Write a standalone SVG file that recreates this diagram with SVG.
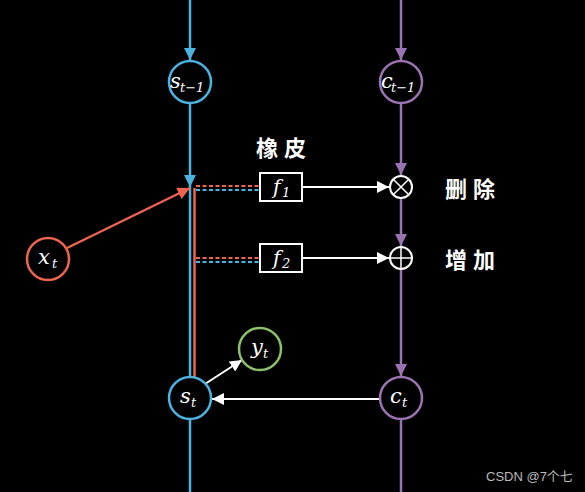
<svg xmlns="http://www.w3.org/2000/svg" width="585" height="492" viewBox="0 0 585 492">
<style>
.math{font-family:"DejaVu Serif","Liberation Serif",serif;font-style:italic;fill:#fff}
.sub{font-family:"DejaVu Serif","Liberation Serif",serif;font-style:italic;fill:#fff;font-size:13px}
.cjk{font-family:"Noto Sans CJK SC",sans-serif;font-weight:bold;fill:#fff;font-size:22px;letter-spacing:6px}
.blue{stroke:#4cb3e0;stroke-width:2.5;fill:none}
.purple{stroke:#9a74b2;stroke-width:2.5;fill:none}
.red{stroke:#ee6450;stroke-width:2.5;fill:none}
.green{stroke:#8cc06c;stroke-width:2.5;fill:none}
.white{stroke:#fff;stroke-width:2;fill:none}
</style>
<defs>
<marker id="ab" viewBox="0 0 10 10" refX="10" refY="5" markerWidth="5" markerHeight="5" orient="auto"><path d="M0,0L10,5L0,10z" fill="#4cb3e0"/></marker>
<marker id="ap" viewBox="0 0 10 10" refX="10" refY="5" markerWidth="5" markerHeight="5" orient="auto"><path d="M0,0L10,5L0,10z" fill="#9a74b2"/></marker>
<marker id="ar" viewBox="0 0 10 10" refX="10" refY="5" markerWidth="5" markerHeight="5" orient="auto"><path d="M0,0L10,5L0,10z" fill="#ee6450"/></marker>
<marker id="aw" viewBox="0 0 10 10" refX="10" refY="5" markerWidth="6" markerHeight="6" orient="auto"><path d="M0,0L10,5L0,10z" fill="#fff"/></marker>
</defs>
<rect width="585" height="492" fill="#000"/>
<g id="connectors">
<line class="blue" x1="190" y1="0" x2="190" y2="60" marker-end="url(#ab)"/>
<line class="blue" x1="190" y1="103" x2="190" y2="187" marker-end="url(#ab)"/>
<line class="blue" x1="190" y1="187" x2="190" y2="377"/>
<line class="blue" x1="190" y1="419" x2="190" y2="492"/>
<line class="purple" x1="401" y1="0" x2="401" y2="60" marker-end="url(#ap)"/>
<line class="purple" x1="401" y1="103" x2="401" y2="175" marker-end="url(#ap)"/>
<line class="purple" x1="401" y1="198" x2="401" y2="246" marker-end="url(#ap)"/>
<line class="purple" x1="401" y1="269" x2="401" y2="376" marker-end="url(#ap)"/>
<line class="purple" x1="401" y1="419" x2="401" y2="492"/>
<line class="red" x1="67" y1="248" x2="190" y2="188" marker-end="url(#ar)"/>
<line class="red" x1="194.5" y1="188" x2="194.5" y2="378"/>
<line stroke="#ee6450" stroke-width="2" stroke-dasharray="4,2.5" x1="196" y1="186" x2="260" y2="186"/>
<line stroke="#4cb3e0" stroke-width="2" stroke-dasharray="4,2.5" x1="196" y1="190" x2="260" y2="190"/>
<line stroke="#ee6450" stroke-width="2" stroke-dasharray="4,2.5" x1="196" y1="258" x2="260" y2="258"/>
<line stroke="#4cb3e0" stroke-width="2" stroke-dasharray="4,2.5" x1="196" y1="262" x2="260" y2="262"/>
<line class="white" x1="302" y1="187" x2="389" y2="187" marker-end="url(#aw)"/>
<line class="white" x1="302" y1="258" x2="389" y2="258" marker-end="url(#aw)"/>
<line class="white" x1="380" y1="399" x2="212" y2="399" marker-end="url(#aw)"/>
<line class="white" x1="205" y1="384" x2="242" y2="360" marker-end="url(#aw)"/>
</g>
<g id="s_prev"><circle class="blue" cx="190" cy="82" r="21"/><text class="math" x="170" y="88" font-size="21">s</text><text class="sub" x="180" y="92">t−1</text></g>
<g id="c_prev"><circle class="purple" cx="401" cy="82" r="21"/><text class="math" x="381" y="88" font-size="21">c</text><text class="sub" x="391" y="92">t−1</text></g>
<g id="x_t"><circle class="red" cx="48" cy="259" r="21"/><text class="math" x="38" y="264" font-size="21">x</text><text class="sub" x="52" y="268">t</text></g>
<g id="f1"><rect x="260" y="173" width="42" height="28" stroke="#fff" stroke-width="2" fill="none"/><text class="math" x="273" y="194" font-size="20">f</text><text class="sub" x="282" y="197" font-style="normal">1</text></g>
<g id="f2"><rect x="260" y="244" width="42" height="28" stroke="#fff" stroke-width="2" fill="none"/><text class="math" x="273" y="265" font-size="20">f</text><text class="sub" x="282" y="268" font-style="normal">2</text></g>
<g id="mul"><circle class="white" cx="401" cy="187" r="11" stroke-width="1.5"/><path d="M393.2,179.2L408.8,194.8M408.8,179.2L393.2,194.8" stroke="#fff" stroke-width="1.5"/></g>
<g id="add"><circle class="white" cx="401" cy="258" r="11" stroke-width="1.5"/><path d="M390,258H412M401,247V269" stroke="#fff" stroke-width="1.5"/></g>
<g id="y_t"><circle class="green" cx="260" cy="349" r="21"/><text class="math" x="251" y="354" font-size="21">y</text><text class="sub" x="263" y="358">t</text></g>
<g id="s_t"><circle class="blue" cx="190" cy="398" r="21"/><text class="math" x="180" y="403" font-size="21">s</text><text class="sub" x="191" y="407">t</text></g>
<g id="c_t"><circle class="purple" cx="401" cy="398" r="21"/><text class="math" x="390" y="403" font-size="21">c</text><text class="sub" x="402" y="407">t</text></g>
<g id="labels">
<text class="cjk" x="256" y="156">橡皮</text>
<text class="cjk" x="445" y="197">删除</text>
<text class="cjk" x="445" y="268">增加</text>
<text x="486" y="481" font-family="'Liberation Sans','Noto Sans CJK SC',sans-serif" font-size="13" fill="#bbb">CSDN @7个七</text>
</g>
</svg>
